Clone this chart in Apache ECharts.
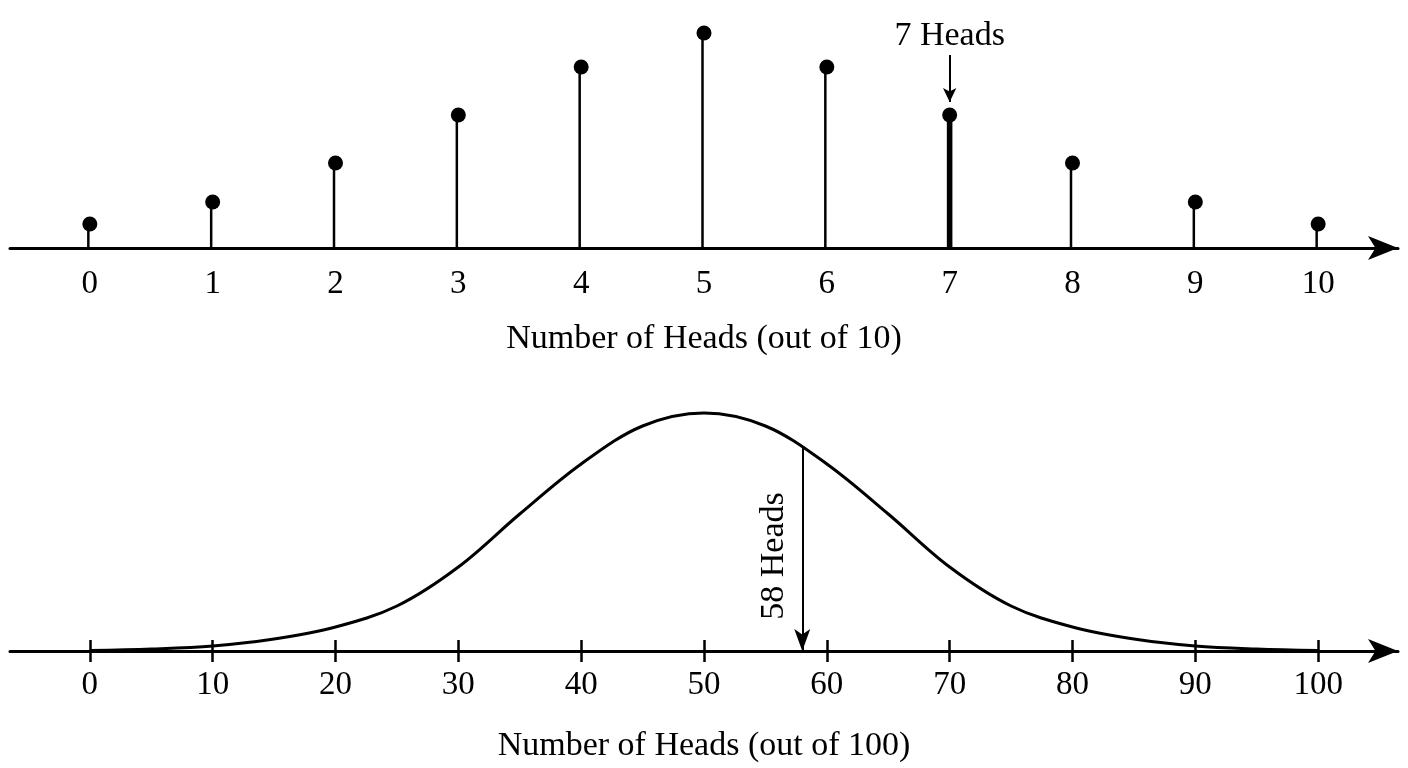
<!DOCTYPE html>
<html><head><meta charset="utf-8">
<script src="https://cdn.jsdelivr.net/npm/echarts@6/dist/echarts.min.js"></script>
<style>html,body{margin:0;padding:0;background:#fff}#c{width:1408px;height:768px}</style>
</head><body><div id="c"></div>
<script>
// top: counts out of 10 (heights as read, px-scale units)
var headsTen = [0, 1, 2, 3, 4, 5, 6, 7, 8, 9, 10];
var tenValues = [24, 46, 85, 133, 181, 215, 181, 133, 85, 46, 24];
// bottom: curve
var curveX = [0, 5, 10, 15, 20, 25, 30, 35, 40, 45, 50, 55, 60, 65, 70, 75, 80, 85, 90, 95, 100];
var curveY = [0.5, 2, 5, 12, 24, 45, 84, 137, 187, 225, 238, 225, 187, 137, 84, 45, 24, 12, 5, 2, 0.5];
var tickHundred = [0, 10, 20, 30, 40, 50, 60, 70, 80, 90, 100];
var markTen = 7, markHundred = 58, markHundredY = 204;

var font = '"Liberation Serif", "DejaVu Serif", serif';
var ink = '#000';
var stems = tenValues.map(function (v, i) { return [headsTen[i], v]; });
var curve = curveX.map(function (x, i) { return [x, curveY[i]]; });

var myChart = echarts.init(document.getElementById('c'));
var option = {
    animation: false,
    grid: [
        {left: 10, right: 10, top: 8, bottom: 520},
        {left: 10, right: 10, top: 411, bottom: 117}
    ],
    xAxis: [
        {gridIndex: 0, type: 'value', min: -0.65, max: 10.65,
            splitLine: {show: false},
            axisLine: {lineStyle: {color: ink, width: 3}, symbol: ['none', 'arrow'], symbolSize: [18, 30]},
            axisTick: {show: false},
            axisLabel: {color: ink, fontFamily: font, fontSize: 33, margin: 20, customValues: headsTen},
            name: 'Number of Heads (out of 10)', nameLocation: 'middle', nameGap: 74,
            nameTextStyle: {color: ink, fontFamily: font, fontSize: 34}},
        {gridIndex: 1, type: 'value', min: -6.5, max: 106.5,
            splitLine: {show: false},
            axisLine: {lineStyle: {color: ink, width: 3}, symbol: ['none', 'arrow'], symbolSize: [18, 30]},
            axisTick: {show: true, length: 11, lineStyle: {color: ink, width: 2.5}, customValues: tickHundred},
            axisLabel: {color: ink, fontFamily: font, fontSize: 33, margin: 18, customValues: tickHundred},
            name: 'Number of Heads (out of 100)', nameLocation: 'middle', nameGap: 78,
            nameTextStyle: {color: ink, fontFamily: font, fontSize: 34}},
        {gridIndex: 1, type: 'value', min: -6.5, max: 106.5, position: 'bottom',
            splitLine: {show: false}, axisLine: {show: false}, axisLabel: {show: false},
            axisTick: {show: true, inside: true, length: 11, lineStyle: {color: ink, width: 2.5}, customValues: tickHundred}}
    ],
    yAxis: [
        {gridIndex: 0, type: 'value', min: 0, max: 240, show: false},
        {gridIndex: 1, type: 'value', min: 0, max: 240, show: false}
    ],
    series: [
        {type: 'bar', xAxisIndex: 0, yAxisIndex: 0, data: stems, barWidth: 2.5,
            itemStyle: {color: ink}},
        {type: 'bar', xAxisIndex: 0, yAxisIndex: 0, barGap: '-100%', barWidth: 5.5,
            data: [[markTen, tenValues[markTen]]], itemStyle: {color: ink}},
        {type: 'scatter', xAxisIndex: 0, yAxisIndex: 0, data: stems, symbolSize: 15,
            itemStyle: {color: ink, opacity: 1},
            markLine: {silent: true, symbol: ['none', 'arrow'], symbolSize: [10, 14],
                lineStyle: {color: ink, width: 2, type: 'solid'},
                label: {show: true, position: 'start', formatter: '7 Heads', color: ink, fontFamily: font, fontSize: 34, distance: 2},
                data: [[{coord: [markTen, 193]}, {coord: [markTen, 146]}]]}},
        {type: 'line', xAxisIndex: 1, yAxisIndex: 1, data: curve, smooth: 0.35, showSymbol: false,
            lineStyle: {color: ink, width: 3},
            markLine: {silent: true, symbol: ['none', 'arrow'], symbolSize: [12, 22],
                lineStyle: {color: ink, width: 2, type: 'solid'}, label: {show: false},
                data: [[{coord: [markHundred, markHundredY]}, {coord: [markHundred, 0]}]]}}
    ]
};
myChart.setOption(option, true);
var p = myChart.convertToPixel({xAxisIndex: 1, yAxisIndex: 1}, [markHundred, 100]);
myChart.setOption({graphic: [{type: 'text', x: p[0] - 28, y: p[1] + 5, rotation: Math.PI / 2,
    style: {text: '58 Heads', fill: ink, font: '34px ' + font, textAlign: 'center', textVerticalAlign: 'middle'}}]});
</script></body></html>
